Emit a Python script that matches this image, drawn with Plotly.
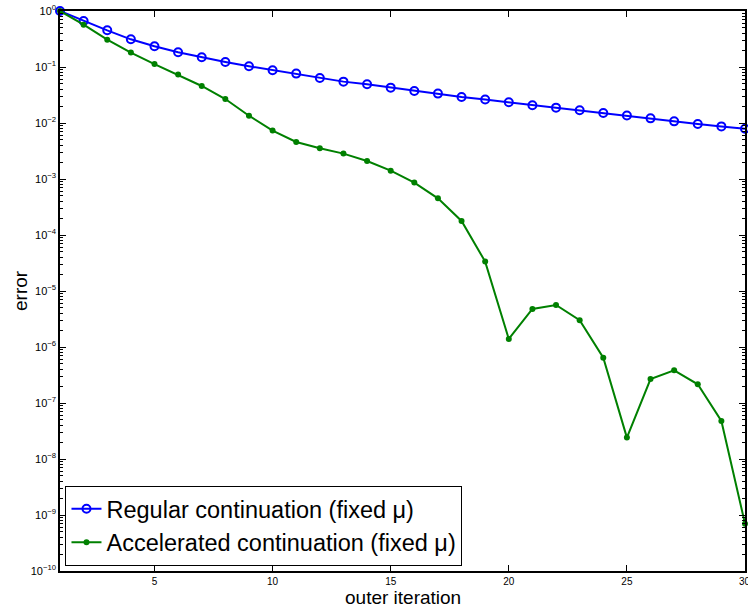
import plotly.graph_objects as go

iterations = list(range(1, 31))
regular_error = [1.0, 0.663, 0.452, 0.312, 0.234, 0.183, 0.149, 0.123, 0.103, 0.0873,
                 0.0762, 0.0636, 0.0548, 0.0491, 0.0428, 0.0373, 0.0335, 0.0291, 0.0262, 0.0234,
                 0.0207, 0.0188, 0.0169, 0.0151, 0.0136, 0.0121, 0.0107, 0.0096, 0.0087, 0.0079]
accel_error = [1.0, 0.571, 0.308, 0.181, 0.113, 0.0731, 0.0458, 0.0268, 0.0135, 0.00731,
               0.00458, 0.00353, 0.00284, 0.00210, 0.00141, 0.000862, 0.000452, 0.000178, 3.35e-5, 1.39e-6,
               4.77e-6, 5.62e-6, 3.0e-6, 6.46e-7, 2.41e-8, 2.68e-7, 3.84e-7, 2.16e-7, 4.77e-8, 7.0e-10]

x_ticks = [5, 10, 15, 20, 25, 30]
y_exponents = list(range(0, -11, -1))
y_tickvals = [10.0 ** e for e in y_exponents]
y_ticktext = ["10<sup>%s</sup>" % (str(e).replace("-", "\u2212")) for e in y_exponents]
y_minor = [m * 10.0 ** e for e in range(-10, 0) for m in range(2, 10)]

FONT = "Liberation Sans, Arial, Helvetica, sans-serif"

fig = go.Figure()
fig.add_trace(go.Scatter(
    x=iterations, y=regular_error, mode="lines+markers",
    name="Regular continuation (fixed \u03bc)",
    line=dict(color="#0000ff", width=2),
    marker=dict(symbol="circle-open", size=8, color="#0000ff", line=dict(width=2, color="#0000ff")),
    cliponaxis=False,
))
fig.add_trace(go.Scatter(
    x=iterations, y=accel_error, mode="lines+markers",
    name="Accelerated continuation (fixed \u03bc)",
    line=dict(color="#008000", width=2),
    marker=dict(symbol="circle", size=6, color="#008000"),
    cliponaxis=False,
))

# last x tick label, partly cut by the page edge as in the reference
last_tick = x_ticks[-1]

fig.update_layout(
    width=748, height=608,
    margin=dict(l=60, r=1, t=11, b=37),
    paper_bgcolor="white", plot_bgcolor="white",
    font=dict(family=FONT, color="black"),
    showlegend=True,
    legend=dict(
        x=0.008, y=0.009, xanchor="left", yanchor="bottom",
        bgcolor="white", bordercolor="black", borderwidth=1,
        font=dict(size=23.5, family=FONT, color="black"),
        itemwidth=30, tracegroupgap=0,
    ),
    xaxis=dict(
        range=[1, 30], tickvals=x_ticks, ticktext=[str(v) for v in x_ticks],
        ticks="inside", ticklen=6, tickwidth=1, tickcolor="black",
        showline=True, linecolor="black", linewidth=1.5, mirror="ticks",
        showgrid=False, zeroline=False,
        tickfont=dict(size=10, family=FONT, color="black"),
    ),
    yaxis=dict(
        type="log", range=[-10, 0],
        tickvals=y_tickvals, ticktext=y_ticktext,
        ticks="inside", ticklen=6, tickwidth=1, tickcolor="black",
        showline=True, linecolor="black", linewidth=1.5, mirror="ticks",
        showgrid=False, zeroline=False,
        tickfont=dict(size=11, family=FONT, color="black"),
        minor=dict(tickvals=y_minor, ticks="inside", ticklen=3, tickcolor="black", showgrid=False),
    ),
    annotations=[
        dict(text=str(last_tick), xref="x", yref="paper", x=last_tick, y=0, yshift=-10,
             xanchor="center", yanchor="middle", showarrow=False,
             font=dict(size=10, family=FONT, color="black")),
        dict(text="outer iteration", xref="paper", yref="paper", x=0.5, y=0, yshift=-26,
             xanchor="center", yanchor="middle", showarrow=False,
             font=dict(size=19, family=FONT, color="black")),
        dict(text="error", xref="paper", yref="paper", x=0, xshift=-40, y=0.5,
             xanchor="center", yanchor="middle", textangle=-90, showarrow=False,
             font=dict(size=19, family=FONT, color="black")),
    ],
)

fig.write_html("out.html")
